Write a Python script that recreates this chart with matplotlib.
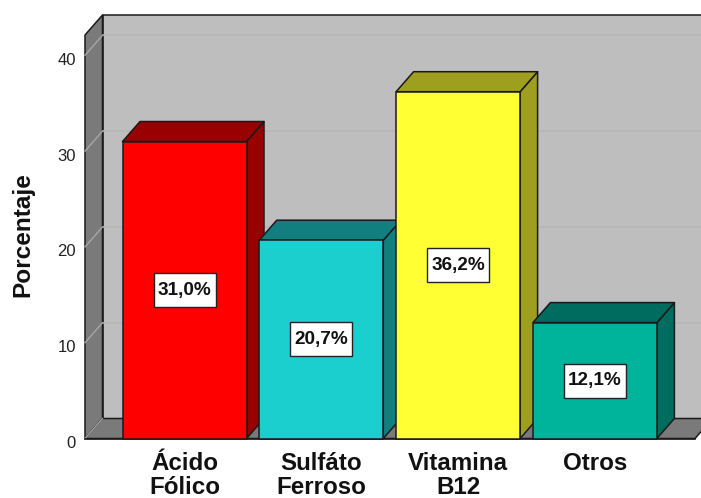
import matplotlib
matplotlib.use('Agg')
import matplotlib.pyplot as plt
from matplotlib.patches import Polygon, Rectangle
from matplotlib.transforms import ScaledTranslation

plt.rcParams['font.family'] = ['Liberation Sans', 'DejaVu Sans']

categorias = ['Ácido\nFólico', 'Sulfáto\nFerroso', 'Vitamina\nB12', 'Otros']
porcentajes = [31.0, 20.7, 36.2, 12.1]
etiquetas = ['31,0%', '20,7%', '36,2%', '12,1%']
colores = ['#FF0000', '#1CCFCF', '#FFFF33', '#00B39B']
colores_osc = ['#990000', '#117F7F', '#9F9F1F', '#006B5F']
ticks_y = [0, 10, 20, 30, 40]

W, H = 701, 498
fig = plt.figure(figsize=(W / 100, H / 100), dpi=100)

# el eje va del borde frontal izquierdo al frontal derecho, el resto sale con clip_on=False
izq, der, abajo, arriba = 85, 695, 438.5, 35
ax = fig.add_axes([izq / W, 1 - abajo / H, (der - izq) / W, (abajo - arriba) / H])

paso = 136.8
escala_y = 9.58
ax.set_xlim((izq - 184.5) / paso, (der - 184.5) / paso)
ax.set_ylim(0, (abajo - arriba) / escala_y)
x0, x1 = ax.get_xlim()
y1 = ax.get_ylim()[1]

dx = 17.5 / paso   # profundidad del efecto 3D
dy = 20 / escala_y
ancho = 124 / paso
borde = '#1A1A1A'


def poligono(puntos, color, orden, lw=1.1, ec=borde):
    ax.add_patch(Polygon(puntos, closed=True, fc=color, ec=ec, lw=lw, clip_on=False,
                         zorder=orden, joinstyle='round'))


# paredes y piso
poligono([(x0 + dx, dy), (x1 + dx, dy), (x1 + dx, y1 + dy), (x0 + dx, y1 + dy)], '#BEBEBE', 1)
poligono([(x0, 0), (x0 + dx, dy), (x0 + dx, y1 + dy), (x0, y1)], '#7A7A7A', 1.2)
poligono([(x0, 0), (x1, 0), (x1 + dx, dy), (x0 + dx, dy)], '#7A7A7A', 1.2)

# grilla
for t in ticks_y:
    if t > 0:
        ax.plot([x0 + dx, x1 + dx], [t + dy, t + dy], color='#B6B6B6', lw=1.1, clip_on=False, zorder=1.5)
    ax.plot([x0, x0 + dx], [t, t + dy], color='#A6A6A6', lw=1.0, clip_on=False, zorder=1.5)

# barras
caja_w = 62 / paso
caja_h = 34 / escala_y
for i, v in enumerate(porcentajes):
    a = i - ancho / 2
    b = i + ancho / 2
    orden = 3 + i
    poligono([(b, 0), (b + dx, dy), (b + dx, v + dy), (b, v)], colores_osc[i], orden)
    poligono([(a, v), (b, v), (b + dx, v + dy), (a + dx, v + dy)], colores_osc[i], orden)
    poligono([(a, 0), (b, 0), (b, v), (a, v)], colores[i], orden + 0.1)
    ax.add_patch(Rectangle((i - caja_w / 2, v / 2 - caja_h / 2), caja_w, caja_h, fc='white',
                           ec='#222222', lw=1.0, zorder=9))
    ax.text(i, v / 2, etiquetas[i], ha='center', va='center', fontsize=13.6, fontweight='bold',
            color='#111111', zorder=10)

# ejes
for lado in ['top', 'right', 'left']:
    ax.spines[lado].set_visible(False)
ax.spines['bottom'].set_color('#1A1A1A')
ax.spines['bottom'].set_linewidth(1.2)
ax.spines['bottom'].set_zorder(2)
ax.patch.set_visible(False)

ax.set_yticks(ticks_y)
ax.set_xticks(range(len(categorias)))
ax.set_xticklabels(categorias, fontsize=17.4, fontweight='bold', linespacing=1.06, color='#111111')
ax.tick_params(axis='x', length=0, pad=9.5)
ax.tick_params(axis='y', length=0, pad=6.5, labelsize=12, labelcolor='#222222')
for lab in ax.get_yticklabels():
    lab.set_transform(lab.get_transform() + ScaledTranslation(0, -3.5 / 100, fig.dpi_scale_trans))

fig.text(23 / W, 1 - 235 / H, 'Porcentaje', rotation=90, ha='center', va='center',
         fontsize=17.6, fontweight='bold', color='#111111')

fig.savefig('out.png', dpi=100)
